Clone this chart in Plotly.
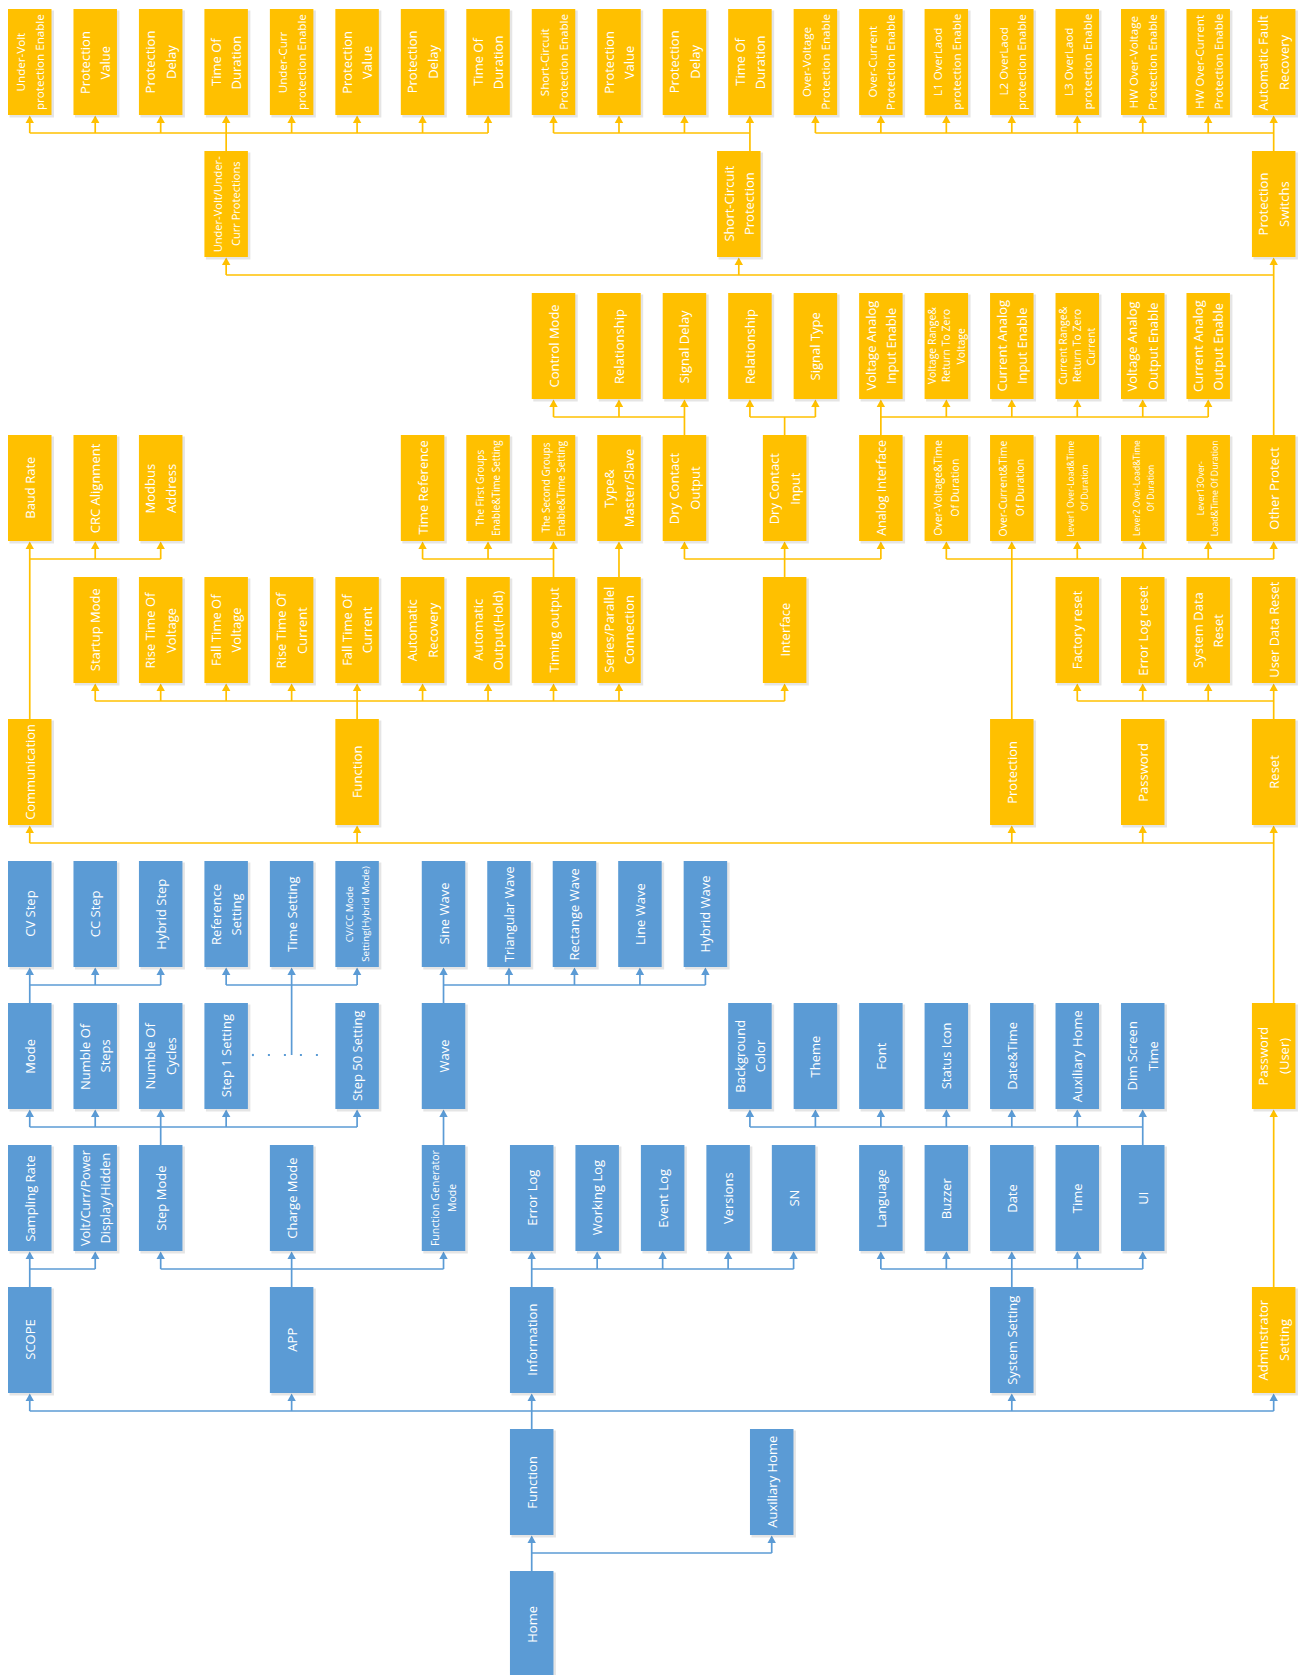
import plotly.graph_objects as go

# ---------------- DATA: labels of every box, grouped by parent ----------------
HOME_LABEL = ["Home"]
HOME_ITEMS = ["Function", "Auxiliary Home"]
MENU_ITEMS = ["SCOPE", "APP", "Information", "System Setting", "Adminstrator\nSetting"]
SCOPE_ITEMS = ["Sampling Rate", "Volt/Curr/Power\nDisplay/Hidden"]
APP_ITEMS = ["Step Mode", "Charge Mode", "Function Generator\nMode"]
INFO_ITEMS = ["Error Log", "Working Log", "Event Log", "Versions", "SN"]
SYSTEM_ITEMS = ["Language", "Buzzer", "Date", "Time", "UI"]
UI_ITEMS = ["Background\nColor", "Theme", "Font", "Status Icon", "Date&Time",
            "Auxiliary Home", "Dim Screen\nTime"]
STEP_MODE_ITEMS = ["Mode", "Numble Of\nSteps", "Numble Of\nCycles", "Step 1 Setting", "Step 50 Setting"]
MODE_ITEMS = ["CV Step", "CC Step", "Hybrid Step"]
STEP_SETTING_ITEMS = ["Reference\nSetting", "Time Setting", "CV/CC Mode\nSetting(Hybrid Mode)"]
FGEN_ITEMS = ["Wave"]
WAVE_ITEMS = ["Sine Wave", "Triangular Wave", "Rectange Wave", "Line Wave", "Hybrid Wave"]
ADMIN_ITEMS = ["Password\n(User)"]
USER_ITEMS = ["Communication", "Function", "Protection", "Password", "Reset"]
COMM_ITEMS = ["Baud Rate", "CRC Alignment", "Modbus\nAddress"]
FUNCTION_ITEMS = ["Startup Mode", "Rise Time Of\nVoltage", "Fall Time Of\nVoltage",
                  "Rise Time Of\nCurrent", "Fall Time Of\nCurrent", "Automatic\nRecovery",
                  "Automatic\nOutput(Hold)", "Timing output", "Series/Parallel\nConnection",
                  "Interface"]
TIMING_ITEMS = ["Time Reference", "The First Groups\nEnable&Time Setting",
                "The Second Groups\nEnable&Time Setting"]
SERIES_ITEMS = ["Type&\nMaster/Slave"]
INTERFACE_ITEMS = ["Dry Contact\nOutput", "Dry Contact\nInput", "Analog Interface"]
DRY_OUT_ITEMS = ["Control Mode", "Relationship", "Signal Delay"]
DRY_IN_ITEMS = ["Relationship", "Signal Type"]
ANALOG_ITEMS = ["Voltage Analog\nInput Enable", "Voltage Range&\nReturn To Zero\nVoltage",
                "Current Analog\nInput Enable", "Current Range&\nReturn To Zero\nCurrent",
                "Voltage Analog\nOutput Enable", "Current Analog\nOutput Enable"]
PROTECTION_ITEMS = ["Over-Voltage&Time\nOf Duration", "Over-Current&Time\nOf Duration",
                    "Lever1 Over-Load&Time\nOf Duration", "Lever2 Over-Load&Time\nOf Duration",
                    "Lever13Over-\nLoad&Time Of Duration", "Other Protect"]
RESET_ITEMS = ["Factory reset", "Error Log reset", "System Data\nReset", "User Data Reset"]
OTHER_ITEMS = ["Under-Volt/Under-\nCurr Protections", "Short-Circuit\nProtection", "Protection\nSwitchs"]
UNDER_ITEMS = ["Under-Volt\nprotection Enable", "Protection\nValue", "Protection\nDelay",
               "Time Of\nDuration", "Under-Curr\nprotection Enable", "Protection\nValue",
               "Protection\nDelay", "Time Of\nDuration"]
SHORT_ITEMS = ["Short-Circuit\nProtection Enable", "Protection\nValue", "Protection\nDelay",
               "Time Of\nDuration"]
SWITCH_ITEMS = ["Over-Voltage\nProtection Enable", "Over-Current\nProtection Enable",
                "L1 OverLaod\nprotection Enable", "L2 OverLaod\nprotection Enable",
                "L3 OverLaod\nprotection Enable", "HW Over-Voltage\nProtection Enable",
                "HW Over-Current\nProtection Enable", "Automatic Fault\nRecovery"]

# tree structure: (group, parent group, index of parent inside its group, labels)
TREE = [
    ("root", None, None, HOME_LABEL),
    ("home", "root", 0, HOME_ITEMS),
    ("menu", "home", 0, MENU_ITEMS),
    ("scope", "menu", 0, SCOPE_ITEMS),
    ("app", "menu", 1, APP_ITEMS),
    ("info", "menu", 2, INFO_ITEMS),
    ("system", "menu", 3, SYSTEM_ITEMS),
    ("ui", "system", 4, UI_ITEMS),
    ("stepmode", "app", 0, STEP_MODE_ITEMS),
    ("mode", "stepmode", 0, MODE_ITEMS),
    ("stepset", "stepmode", "dots", STEP_SETTING_ITEMS),
    ("fgen", "app", 2, FGEN_ITEMS),
    ("wave", "fgen", 0, WAVE_ITEMS),
    ("admin", "menu", 4, ADMIN_ITEMS),
    ("user", "admin", 0, USER_ITEMS),
    ("comm", "user", 0, COMM_ITEMS),
    ("function", "user", 1, FUNCTION_ITEMS),
    ("timing", "function", 7, TIMING_ITEMS),
    ("series", "function", 8, SERIES_ITEMS),
    ("interface", "function", 9, INTERFACE_ITEMS),
    ("dryout", "interface", 0, DRY_OUT_ITEMS),
    ("dryin", "interface", 1, DRY_IN_ITEMS),
    ("analog", "interface", 2, ANALOG_ITEMS),
    ("protection", "user", 2, PROTECTION_ITEMS),
    ("reset", "user", 4, RESET_ITEMS),
    ("other", "protection", 5, OTHER_ITEMS),
    ("under", "other", 0, UNDER_ITEMS),
    ("short", "other", 1, SHORT_ITEMS),
    ("switch", "other", 2, SWITCH_ITEMS),
]

# ---------------- LAYOUT (grid row, grid columns per group) ----------------
LAYOUT = {
    "root": (11, [7.667]),
    "home": (10, [7.667, 11.333]),
    "menu": (9, [0, 4, 7.667, 15, 19]),
    "scope": (8, [0, 1]),
    "app": (8, [2, 4, 6.32]),
    "info": (8, [7.667, 8.667, 9.667, 10.667, 11.667]),
    "system": (8, [13, 14, 15, 16, 17]),
    "ui": (7, [11, 12, 13, 14, 15, 16, 17]),
    "stepmode": (7, [0, 1, 2, 3, 5]),
    "mode": (6, [0, 1, 2]),
    "stepset": (6, [3, 4, 5]),
    "fgen": (7, [6.32]),
    "wave": (6, [6.32, 7.32, 8.32, 9.32, 10.32]),
    "admin": (7, [19]),
    "user": (5, [0, 5, 15, 17, 19]),
    "comm": (3, [0, 1, 2]),
    "function": (4, [1, 2, 3, 4, 5, 6, 7, 8, 9, 11.53]),
    "timing": (3, [6, 7, 8]),
    "series": (3, [9]),
    "interface": (3, [10, 11.53, 13]),
    "dryout": (2, [8, 9, 10]),
    "dryin": (2, [11, 12]),
    "analog": (2, [13, 14, 15, 16, 17, 18]),
    "protection": (3, [14, 15, 16, 17, 18, 19]),
    "reset": (4, [16, 17, 18, 19]),
    "other": (1, [3, 10.83, 19]),
    "under": (0, [0, 1, 2, 3, 4, 5, 6, 7]),
    "short": (0, [8, 9, 10, 11]),
    "switch": (0, [12, 13, 14, 15, 16, 17, 18, 19]),
}
STEM_COL = {("other", 1): 11}

ORANGE = "#FFC000"
BLUE = "#5B9BD5"
COL0, PITCH, BOX_W = 8.0, 65.47, 43.5
ROW0, ROW_PITCH, BOX_H = 9.0, 142.0, 106.0
BUS_GAP = 18.0
PAGE_W, PAGE_H = 1303, 1675


def xl(c):
    return COL0 + c * PITCH


def cx(c):
    return xl(c) + BOX_W / 2


def yt(r):
    return ROW0 + r * ROW_PITCH


def yb(r):
    return yt(r) + BOX_H


nodes = {}
for g, pg, pi, items in TREE:
    row, cols = LAYOUT[g]
    for i, lab in enumerate(items):
        nodes[(g, i)] = {"label": lab, "col": cols[i], "row": row,
                         "parent": (pg, pi) if pg else None}


def color_of(nid):
    cur = nid
    while cur is not None and cur in nodes:
        if cur == ("menu", 4):
            return ORANGE
        cur = nodes[cur]["parent"]
    return BLUE


# ---------------- connectors ----------------
segs = {ORANGE: ([], []), BLUE: ([], [])}


def add_seg(color, x0, y0, x1, y1):
    xs, ys = segs[color]
    xs += [x0, x1, None]
    ys += [y0, y1, None]


arrows = []
dots_y = yt(LAYOUT["stepmode"][0]) + BOX_H / 2 - 1
s_cols = LAYOUT["stepmode"][1]
dots_x0 = xl(s_cols[3]) + BOX_W + 4
dots_x1 = xl(s_cols[4]) - 4

for g, pg, pi, items in TREE:
    if pg is None:
        continue
    row, cols = LAYOUT[g]
    kx = [cx(c) for c in cols]
    kb = yb(row)
    bus = kb + BUS_GAP
    if pi == "dots":
        color = BLUE
        stem_x = cx(cols[1])
        stem_y = dots_y
    else:
        p = nodes[(pg, pi)]
        color = color_of((pg, pi))
        stem_x = cx(STEM_COL.get((pg, pi), p["col"]))
        stem_y = yt(p["row"])
    if len(kx) == 1 and abs(kx[0] - stem_x) < 0.5:
        add_seg(color, stem_x, stem_y, stem_x, kb + 4)
    else:
        add_seg(color, min(kx + [stem_x]), bus, max(kx + [stem_x]), bus)
        add_seg(color, stem_x, stem_y, stem_x, bus)
        for x in kx:
            add_seg(color, x, bus, x, kb + 4)
    for x in kx:
        arrows.append((x, kb, color))

fig = go.Figure()
for color, (xs, ys) in segs.items():
    fig.add_trace(go.Scatter(x=xs, y=ys, mode="lines", line=dict(color=color, width=1.7),
                             hoverinfo="skip", showlegend=False))
# dotted link between "Step 1 Setting" and "Step 50 Setting"
fig.add_trace(go.Scatter(x=[dots_x0, dots_x1], y=[dots_y, dots_y], mode="lines",
                         line=dict(color=BLUE, width=2.2, dash="2px,14px"),
                         hoverinfo="skip", showlegend=False))

shapes = []
for x, b, color in arrows:
    shapes.append(dict(type="path", xref="x", yref="y",
                       path=f"M {x-4.2},{b+8} L {x+4.2},{b+8} L {x},{b+0.5} Z",
                       fillcolor=color, line=dict(width=0), layer="above"))

# ---------------- boxes & text ----------------
CW = {' ': 260, '&': 727, '(': 296, ')': 296, '-': 322, '.': 266, '/': 367,
      'A': 633, 'B': 648, 'C': 631, 'D': 729, 'E': 556, 'F': 516, 'G': 728, 'H': 738,
      'I': 279, 'K': 599, 'L': 519, 'M': 903, 'N': 754, 'O': 779, 'P': 602, 'R': 618,
      'S': 549, 'T': 553, 'U': 728, 'V': 592, 'W': 924, 'Y': 556,
      'a': 556, 'b': 613, 'c': 476, 'd': 613, 'e': 561, 'f': 336, 'g': 546, 'h': 613,
      'i': 258, 'k': 535, 'l': 258, 'm': 930, 'n': 613, 'o': 604, 'p': 613, 'r': 408,
      's': 477, 't': 352, 'u': 613, 'v': 501, 'w': 778, 'x': 524, 'y': 501, 'z': 463}


def text_em(s):
    return sum(CW.get(ch, 572) for ch in s) / 1000.0


annotations = []
for nid, n in nodes.items():
    color = color_of(nid)
    x0 = xl(n["col"])
    y0 = yt(n["row"])
    shapes.append(dict(type="rect", xref="x", yref="y", x0=x0 + 1.5, x1=x0 + BOX_W + 2.5,
                       y0=y0 + 1.5, y1=y0 + BOX_H + 2.5,
                       fillcolor="rgba(0,0,0,0.10)", line=dict(width=0), layer="above"))
    shapes.append(dict(type="rect", xref="x", yref="y", x0=x0, x1=x0 + BOX_W,
                       y0=y0, y1=y0 + BOX_H, fillcolor=color,
                       line=dict(width=0), layer="above"))
    lines = n["label"].split("\n")
    size = min(13.0, 96.0 / max(text_em(s) for s in lines))
    if len(lines) >= 3:
        size = min(size, 10.5)
        spacing = 1.35 * size
    else:
        spacing = min(1.6 * size, 20.5)
    xc = x0 + BOX_W / 2
    yc = y0 + BOX_H / 2
    for i, s in enumerate(lines):
        off = (i - (len(lines) - 1) / 2) * spacing
        annotations.append(dict(x=xc + off, y=yc, xref="x", yref="y", text=s,
                                textangle=-90, showarrow=False,
                                xanchor="center", yanchor="middle",
                                font=dict(family="Open Sans", size=size, color="white")))

fig.update_layout(
    width=PAGE_W, height=PAGE_H,
    margin=dict(l=0, r=0, t=0, b=0),
    paper_bgcolor="white", plot_bgcolor="white",
    xaxis=dict(range=[0, PAGE_W], visible=False, fixedrange=True),
    yaxis=dict(range=[PAGE_H, 0], visible=False, fixedrange=True),
    shapes=shapes, annotations=annotations,
    hovermode=False, showlegend=False,
)

fig.write_html("out.html", config={"displayModeBar": False, "responsive": False},
               post_script="document.body.style.margin='0';document.body.style.overflow='hidden';")
